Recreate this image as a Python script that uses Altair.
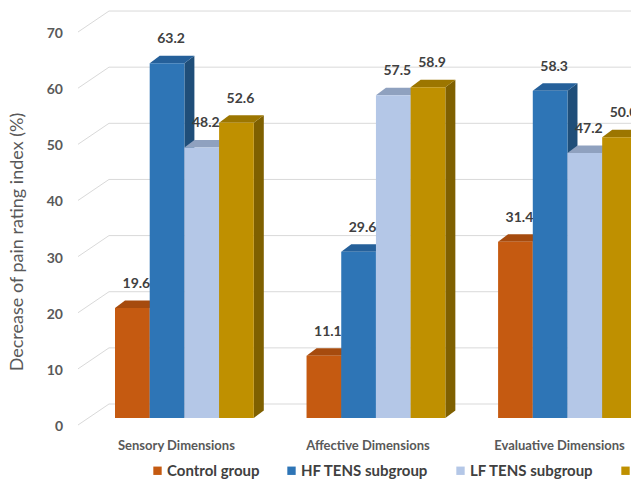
import altair as alt
import pandas as pd

# ---- data -------------------------------------------------------------
groups = ["Sensory Dimensions", "Affective Dimensions", "Evaluative Dimensions"]
series = ["Control group", "HF TENS subgroup", "LF TENS subgroup", "HF+LF TENS subgroup"]
control = [19.6, 11.1, 31.4]
hf_tens = [63.2, 29.6, 58.3]
lf_tens = [48.2, 57.5, 47.2]
hf_lf_tens = [52.6, 58.9, 50.0]
y_ticks = [0, 10, 20, 30, 40, 50, 60, 70]
y_title = "Decrease of pain rating index (%)"

# ---- styles -----------------------------------------------------------
front_colors = ["#C55A11", "#2E75B6", "#B4C7E7", "#BF9000"]
top_colors = ["#A64B0E", "#25609A", "#8FA1BF", "#9C7600"]
side_colors = ["#843C0C", "#1F4E79", "#7F8FA9", "#7F6000"]
FONT = "Lato"

# ---- layout (pseudo-3D column chart) ----------------------------------
W, H = 631, 479
PX_SLOT = 34.7          # pixels per bar slot
PX_UNIT = 5.614         # pixels per percentage point
X0, Y0 = 115, 418       # pixel position of slot 0 / value 0
PITCH = 5.52            # group pitch in slots
DEPTH_X = 10 / PX_SLOT  # bar depth, horizontal component
DEPTH_Y = 7.5 / PX_UNIT # bar depth, vertical component
WALL_Y = 14 / PX_UNIT   # back wall offset of gridlines
SIDE_Y = -7 / PX_UNIT   # front edge of side wall gridlines

x_scale = alt.Scale(domain=[-X0 / PX_SLOT, (W - X0) / PX_SLOT], nice=False, zero=False)
y_scale = alt.Scale(domain=[-(H - Y0) / PX_UNIT, Y0 / PX_UNIT], nice=False, zero=False)

values = [control, hf_tens, lf_tens, hf_lf_tens]

bar_rows, side_rows, top_rows = [], [], []
for g, grp in enumerate(groups):
    for j, name in enumerate(series):
        v = values[j][g]
        slot = g * PITCH + j
        face = f"{g}-{j}"
        bar_rows.append(dict(group=grp, series=name, slot=slot, slot_end=slot + 1,
                             center=slot + 0.5, value=v, zero=0.0, label=f"{v:.1f}"))
        side_rows += [
            dict(face=face, x=slot + 1, y=v, y2=0.0, shade=side_colors[j]),
            dict(face=face, x=slot + 1 + DEPTH_X, y=v + DEPTH_Y, y2=DEPTH_Y, shade=side_colors[j]),
        ]
        top_rows += [
            dict(face=face, y=v, x=slot, x2=slot + 1, shade=top_colors[j]),
            dict(face=face, y=v + DEPTH_Y, x=slot + DEPTH_X, x2=slot + 1 + DEPTH_X, shade=top_colors[j]),
        ]

bars = pd.DataFrame(bar_rows)
sides = pd.DataFrame(side_rows)
tops = pd.DataFrame(top_rows)
grid = pd.DataFrame({"v": y_ticks, "label": [str(t) for t in y_ticks]})
grid["wall"] = grid["v"] + WALL_Y
grid["edge"] = grid["v"] + SIDE_Y
cats = pd.DataFrame({"group": groups, "center": [g * PITCH + 2 for g in range(len(groups))]})

# ---- layers -----------------------------------------------------------
grid_wall = alt.Chart(grid).mark_rule(color="#D9D9D9", strokeWidth=1).encode(
    x=alt.value(109), x2=alt.value(W),
    y=alt.Y("wall:Q", scale=y_scale, axis=None),
)
grid_side = alt.Chart(grid).mark_rule(color="#D9D9D9", strokeWidth=1).encode(
    x=alt.value(78), x2=alt.value(109),
    y=alt.Y("edge:Q", scale=y_scale, axis=None), y2="wall:Q",
)
tick_labels = alt.Chart(grid).mark_text(
    align="right", baseline="middle", dy=9, font=FONT, fontSize=14,
    fontWeight="bold", color="#595959",
).encode(x=alt.value(63), y=alt.Y("v:Q", scale=y_scale, axis=None), text="label:N")

side_faces = alt.Chart(sides).mark_area(orient="vertical").encode(
    x=alt.X("x:Q", scale=x_scale, axis=None),
    y=alt.Y("y:Q", scale=y_scale, axis=None, stack=None), y2="y2:Q",
    detail="face:N", fill=alt.Fill("shade:N", scale=None),
)
top_faces = alt.Chart(tops).mark_area(orient="horizontal").encode(
    y=alt.Y("y:Q", scale=y_scale, axis=None),
    x=alt.X("x:Q", scale=x_scale, axis=None, stack=None), x2="x2:Q",
    detail="face:N", fill=alt.Fill("shade:N", scale=None),
)
front_faces = alt.Chart(bars).mark_rect().encode(
    x=alt.X("slot:Q", scale=x_scale, axis=None), x2="slot_end:Q",
    y=alt.Y("value:Q", scale=y_scale, axis=None), y2="zero:Q",
    color=alt.Color(
        "series:N", sort=series,
        scale=alt.Scale(domain=series, range=front_colors),
        legend=alt.Legend(
            title=None, orient="none", legendX=150, legendY=463, direction="horizontal",
            symbolType="square", symbolSize=70, symbolStrokeWidth=0, padding=0,
            labelFont=FONT, labelFontSize=15, labelFontWeight="bold",
            labelColor="#404040", labelOffset=2, columnPadding=24, labelLimit=300,
        ),
    ),
)
value_labels = alt.Chart(bars).mark_text(
    dx=4, dy=-24, font=FONT, fontSize=14, fontWeight="bold", color="#404040",
).encode(
    x=alt.X("center:Q", scale=x_scale, axis=None),
    y=alt.Y("value:Q", scale=y_scale, axis=None),
    text="label:N",
)
cat_labels = alt.Chart(cats).mark_text(
    dx=-8, baseline="middle", font=FONT, fontSize=13, fontWeight="bold", color="#595959",
).encode(x=alt.X("center:Q", scale=x_scale, axis=None), y=alt.value(446), text="group:N")
title_text = alt.Chart(pd.DataFrame({"t": [y_title]})).mark_text(
    angle=270, baseline="middle", font=FONT, fontSize=18, color="#595959",
).encode(x=alt.value(18), y=alt.value(242), text="t:N")

chart = alt.layer(
    grid_wall, grid_side, tick_labels, side_faces, top_faces, front_faces,
    value_labels, cat_labels, title_text,
).properties(
    width=W, height=H, padding=0,
    autosize=alt.AutoSizeParams(type="none"),
    background="white",
).configure_view(stroke=None)

chart.save("out.html", embed_options={"renderer": "svg", "actions": False})
